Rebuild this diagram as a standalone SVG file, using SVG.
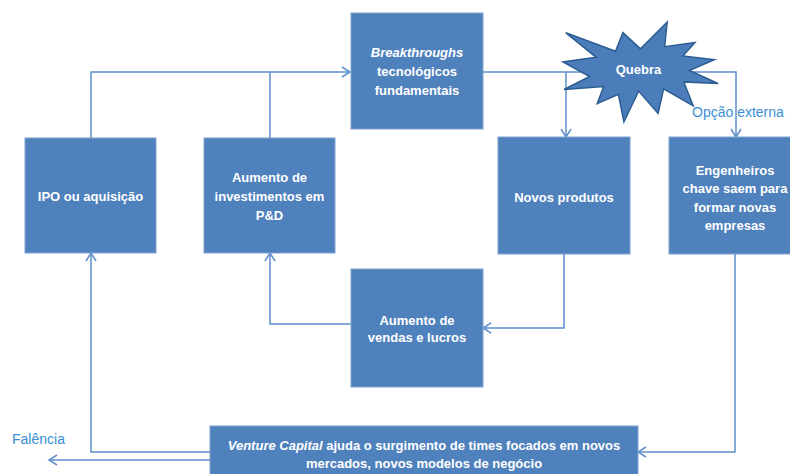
<svg xmlns="http://www.w3.org/2000/svg" width="790" height="474" viewBox="0 0 790 474">
<defs>
<style>
.box{fill:#4f81bd;stroke:#7ea3d0;stroke-width:1}
.t{font-family:"Liberation Sans",Arial,sans-serif;font-weight:bold;font-size:13px;fill:#ffffff;text-anchor:middle}
.c{fill:none;stroke:#5f8fcb;stroke-width:1.5}
.lbl{font-family:"Liberation Sans",Arial,sans-serif;font-size:14px;fill:#3a8fd6}
</style>
<marker id="arr" markerUnits="userSpaceOnUse" markerWidth="12" markerHeight="14" refX="9" refY="6" orient="auto">
<path d="M1,1 L9,6 L1,11" fill="none" stroke="#5f8fcb" stroke-width="1.5"/>
</marker>
</defs>
<rect width="790" height="474" fill="#ffffff"/>
<g id="connectors">
<polyline class="c" points="91,138 91,72 350,72" marker-end="url(#arr)"/>
<polyline class="c" points="270,138 270,72"/>
<polyline class="c" points="483,72 736,72 736,137" marker-end="url(#arr)"/>
<polyline class="c" points="566,72 566,137" marker-end="url(#arr)"/>
<polyline class="c" points="564,254 564,328 483,328" marker-end="url(#arr)"/>
<polyline class="c" points="351,324 270,324 270,253" marker-end="url(#arr)"/>
<polyline class="c" points="735,254 735,452 638,452" marker-end="url(#arr)"/>
<polyline class="c" points="210,452 91,452 91,253" marker-end="url(#arr)"/>
<polyline class="c" points="210,460 49,460" marker-end="url(#arr)"/>
</g>
<g id="ipo">
<rect class="box" x="25" y="138" width="131" height="115"/>
<text class="t" x="90.5" y="201">IPO ou aquisição</text>
</g>
<g id="pd">
<rect class="box" x="204" y="138" width="131" height="115"/>
<text class="t" x="269.5" y="182">Aumento de</text>
<text class="t" x="269.5" y="201">investimentos em</text>
<text class="t" x="269.5" y="220">P&amp;D</text>
</g>
<g id="breakthroughs">
<rect class="box" x="351" y="13" width="132" height="116"/>
<text class="t" x="417" y="57" font-style="italic">Breakthroughs</text>
<text class="t" x="417" y="76">tecnológicos</text>
<text class="t" x="417" y="95">fundamentais</text>
</g>
<g id="quebra">
<polygon points="640.5,48.9 667.2,22 664.6,46.7 694.9,42.6 682.9,55.9 714.4,59.7 689.3,70.5 718,83.5 683.8,81.9 693.2,105.8 663.6,88.9 658.1,113.4 638.6,91.1 623.9,122 618.4,94.3 597.2,103.6 603.7,86.5 564,89.5 589.7,76.5 563,61.9 596.2,57.3 565.7,32.6 615.5,51.3 622.9,32.6" fill="#4a7dba" stroke="#2c5d92" stroke-width="1.5" stroke-linejoin="miter"/>
<text class="t" x="638.5" y="73.5">Quebra</text>
</g>
<g id="novos">
<rect class="box" x="498" y="137" width="132" height="117"/>
<text class="t" x="564" y="201.5">Novos produtos</text>
</g>
<g id="engenheiros">
<rect class="box" x="669" y="137" width="132" height="117"/>
<text class="t" x="735" y="174.5">Engenheiros</text>
<text class="t" x="735" y="193">chave saem para</text>
<text class="t" x="735" y="211.5">formar novas</text>
<text class="t" x="735" y="230">empresas</text>
</g>
<g id="vendas">
<rect class="box" x="351" y="269" width="132" height="118"/>
<text class="t" x="417" y="324.5">Aumento de</text>
<text class="t" x="417" y="342">vendas e lucros</text>
</g>
<g id="venture">
<rect class="box" x="210" y="426" width="428" height="60"/>
<text class="t" x="424" y="449.5"><tspan font-style="italic">Venture Capital</tspan> ajuda o surgimento de times focados em novos</text>
<text class="t" x="424" y="467.5">mercados, novos modelos de negócio</text>
</g>
<g id="labels">
<text class="lbl" x="692" y="117">Opção externa</text>
<text class="lbl" x="12" y="444">Falência</text>
</g>
</svg>
